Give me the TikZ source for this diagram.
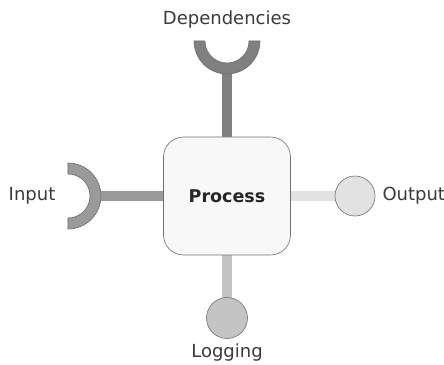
\documentclass[tikz,border=0pt]{standalone}
\usepackage{fontspec}
\setmainfont{DejaVu Sans}
\usepackage{tikz}
\usetikzlibrary{calc}
\usetikzlibrary{positioning}
\usetikzlibrary{backgrounds}

\definecolor{edgegray}{HTML}{6E6E6E}
\definecolor{depgray}{HTML}{808080}
\definecolor{ingray}{HTML}{9A9A9A}
\definecolor{loggray}{HTML}{C4C4C4}
\definecolor{outgray}{HTML}{E2E2E2}
\definecolor{boxgray}{HTML}{F8F8F8}
\definecolor{textgray}{HTML}{3A3A3A}

\begin{document}
\begin{tikzpicture}[x=1pt, y=1pt,
		label text/.style={text=textgray, font=\fontsize{18}{20}\selectfont, inner sep=0pt},
		stem/.style={draw=edgegray, line width=0.6pt, double distance=9.5pt},
		ball/.style={circle, draw=edgegray, line width=0.6pt, minimum size=40pt, inner sep=0pt},
		socket/.style={draw=edgegray, line width=0.6pt}]
			\useasboundingbox (-227,-168) rectangle (217,196);
			
			\def\rin{22}
			\def\rout{33}
			
			\node[rectangle, rounded corners=20pt, draw=edgegray, line width=0.6pt, fill=boxgray,
				minimum width=127pt, minimum height=118pt] (proc) at (0,0)
				{\fontsize{17.5}{20}\selectfont\bfseries\color{black!85}Process};
			
			\coordinate (depcup) at (0,155);
			\coordinate (incup) at (-159,0);
			\node[ball, fill=outgray] (outball) at (128,0) {};
			\node[ball, fill=loggray, minimum size=41pt] (logball) at (0,-122) {};
			
			\node[label text] (deplabel) at (0,176) {Dependencies};
			\node[label text] (inlabel) at (-195,0) {Input};
			\node[label text, right=7pt of outball] (outlabel) {Output};
			\node[label text] (loglabel) at (0,-157) {Logging};
			
			% stems behind the sockets and balls
			\begin{pgfonlayer}{background}
				\draw[stem, double=depgray, shorten >=27pt] (proc) -- (depcup);
				\draw[stem, double=ingray, shorten >=27pt] (proc) -- (incup);
				\draw[stem, double=outgray] (proc) -- (outball.center);
				\draw[stem, double=loggray] (proc) -- (logball.center);
			\end{pgfonlayer}
			
			% sockets
			\draw[socket, fill=depgray] ($(depcup)+(180:\rout)$) arc[start angle=180, end angle=360, radius=\rout]
				-- ($(depcup)+(0:\rin)$) arc[start angle=0, end angle=-180, radius=\rin] -- cycle;
			\draw[socket, fill=ingray] ($(incup)+(90:\rout)$) arc[start angle=90, end angle=-90, radius=\rout]
				-- ($(incup)+(-90:\rin)$) arc[start angle=-90, end angle=90, radius=\rin] -- cycle;
			
		\end{tikzpicture}
\end{document}
